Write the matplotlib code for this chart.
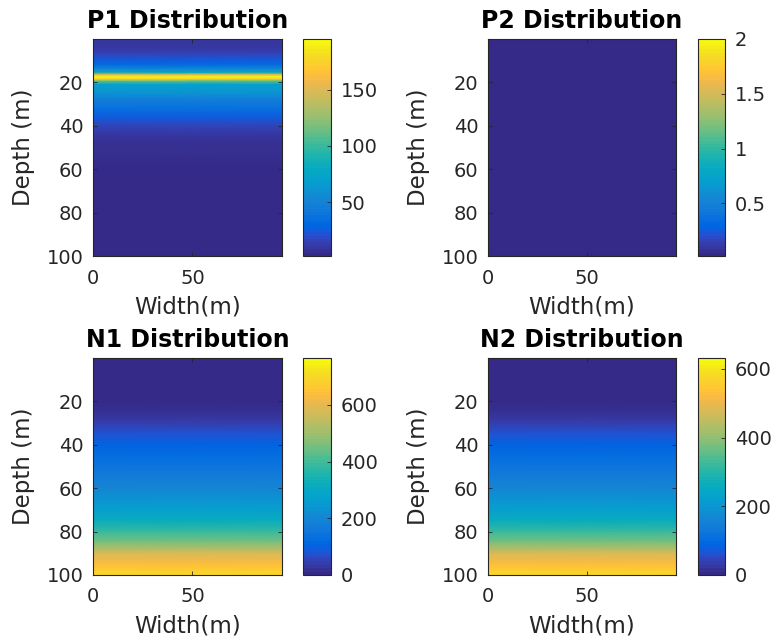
import numpy as np
import matplotlib
matplotlib.use("Agg")
import matplotlib.pyplot as plt
from matplotlib.colors import ListedColormap

# MATLAB parula colormap (64 entries)
parula = ListedColormap([
    [0.2081, 0.1663, 0.5292], [0.2116, 0.1898, 0.5777], [0.2123, 0.2138, 0.6270],
    [0.2081, 0.2386, 0.6771], [0.1959, 0.2645, 0.7279], [0.1707, 0.2919, 0.7792],
    [0.1253, 0.3242, 0.8303], [0.0591, 0.3598, 0.8683], [0.0117, 0.3875, 0.8820],
    [0.0060, 0.4086, 0.8828], [0.0165, 0.4266, 0.8786], [0.0329, 0.4430, 0.8720],
    [0.0498, 0.4586, 0.8641], [0.0629, 0.4737, 0.8554], [0.0723, 0.4887, 0.8467],
    [0.0779, 0.5040, 0.8384], [0.0793, 0.5200, 0.8312], [0.0749, 0.5375, 0.8263],
    [0.0641, 0.5570, 0.8240], [0.0488, 0.5772, 0.8228], [0.0343, 0.5966, 0.8199],
    [0.0265, 0.6137, 0.8135], [0.0239, 0.6287, 0.8038], [0.0231, 0.6418, 0.7913],
    [0.0228, 0.6535, 0.7768], [0.0267, 0.6642, 0.7607], [0.0384, 0.6743, 0.7436],
    [0.0590, 0.6838, 0.7254], [0.0843, 0.6928, 0.7062], [0.1133, 0.7015, 0.6859],
    [0.1453, 0.7098, 0.6646], [0.1801, 0.7177, 0.6424], [0.2178, 0.7250, 0.6193],
    [0.2586, 0.7317, 0.5954], [0.3022, 0.7376, 0.5712], [0.3482, 0.7424, 0.5473],
    [0.3953, 0.7459, 0.5244], [0.4420, 0.7481, 0.5033], [0.4871, 0.7491, 0.4840],
    [0.5300, 0.7491, 0.4661], [0.5709, 0.7485, 0.4494], [0.6099, 0.7473, 0.4337],
    [0.6473, 0.7456, 0.4188], [0.6834, 0.7435, 0.4044], [0.7184, 0.7411, 0.3905],
    [0.7525, 0.7384, 0.3768], [0.7858, 0.7356, 0.3633], [0.8185, 0.7327, 0.3498],
    [0.8507, 0.7299, 0.3360], [0.8824, 0.7274, 0.3217], [0.9139, 0.7258, 0.3063],
    [0.9450, 0.7261, 0.2886], [0.9739, 0.7314, 0.2666], [0.9938, 0.7455, 0.2403],
    [0.9990, 0.7653, 0.2164], [0.9955, 0.7861, 0.1967], [0.9880, 0.8066, 0.1794],
    [0.9789, 0.8271, 0.1633], [0.9697, 0.8481, 0.1475], [0.9626, 0.8705, 0.1309],
    [0.9589, 0.8949, 0.1132], [0.9598, 0.9218, 0.0948], [0.9661, 0.9514, 0.0755],
    [0.9763, 0.9831, 0.0538]])

# ---- data (constant across width) ----
width_range = [0, 95]

p1_depth = [0, 4, 7, 10, 12, 14, 15.5, 16.5, 17.5, 18.5, 19.5, 21, 25, 28, 32,
            36, 40, 44, 48, 52, 58, 65, 100]
p1_vals = [10, 11, 16, 24, 34, 55, 80, 150, 190, 175, 110, 70, 62, 45, 36,
           24, 16, 11, 8, 6, 4, 3, 2]
p1_clim = (2, 195)

p2_depth = [0, 100]
p2_vals = [0, 0]
p2_clim = (0.02, 2)

n_depth = [0, 5, 10, 15, 20, 25, 30, 35, 40, 45, 50, 55, 60, 65, 70, 75, 80,
           85, 90, 93, 96, 98, 100]
n1_vals = [5, 6, 7, 8, 11, 22, 42, 75, 105, 125, 150, 170, 195, 230, 270,
           320, 390, 460, 580, 620, 655, 680, 700]
n1_clim = (0, 765)
n2_vals = [4, 5, 6, 7, 9, 18, 35, 62, 87, 103, 124, 140, 161, 190, 223,
           264, 322, 380, 479, 512, 541, 562, 578]
n2_clim = (0, 632)

titles = ["P1 Distribution", "P2 Distribution", "N1 Distribution", "N2 Distribution"]
cbar_ticks = [[50, 100, 150], [0.5, 1, 1.5, 2], [0, 200, 400, 600], [0, 200, 400, 600]]
cbar_labels = [["50", "100", "150"], ["0.5", "1", "1.5", "2"],
               ["0", "200", "400", "600"], ["0", "200", "400", "600"]]

panels = [(p1_depth, p1_vals, p1_clim), (p2_depth, p2_vals, p2_clim),
          (n_depth, n1_vals, n1_clim), (n_depth, n2_vals, n2_clim)]

txt = '#262626'
plt.rcParams['font.family'] = 'DejaVu Sans'
plt.rcParams['text.color'] = txt
plt.rcParams['axes.labelcolor'] = txt

fig = plt.figure(figsize=(7.73, 6.43), dpi=100)

W, H = 773, 643
# pixel boxes: (left, top, right, bottom)
ax_boxes = [(93, 39, 282, 256), (488, 39, 676, 256),
            (93, 358, 282, 575), (488, 358, 676, 575)]
cb_boxes = [(303, 39, 331, 256), (698, 39, 725, 256),
            (303, 358, 331, 575), (698, 358, 725, 575)]

def frac(box):
    l, t, r, b = box
    return [l / W, 1 - b / H, (r - l) / W, (b - t) / H]

for i, (depth, vals, clim) in enumerate(panels):
    ax = fig.add_axes(frac(ax_boxes[i]))
    z = np.repeat(np.array(vals, dtype=float)[:, None], 2, axis=1)
    mesh = ax.pcolormesh(width_range, depth, z, shading='gouraud', cmap=parula,
                         vmin=clim[0], vmax=clim[1], rasterized=True)
    ax.set_xlim(0, 95)
    ax.set_ylim(100, 0)
    ax.set_xticks([0, 50])
    ax.set_yticks([20, 40, 60, 80, 100])
    ax.tick_params(direction='in', length=3, width=0.6, top=True, right=True,
                   colors=txt, labelsize=14, pad=7)
    ax.tick_params(axis='x', pad=9)
    for s in ax.spines.values():
        s.set_color(txt)
        s.set_linewidth(0.8)
    ax.set_title(titles[i], fontsize=17, fontweight='bold', pad=8, color='black')
    ax.set_xlabel('Width(m)', fontsize=16.5, labelpad=6)
    ax.set_ylabel('Depth (m)', fontsize=16.5, labelpad=8)

    cax = fig.add_axes(frac(cb_boxes[i]))
    cb = fig.colorbar(mesh, cax=cax)
    cb.set_ticks(cbar_ticks[i])
    cb.set_ticklabels(cbar_labels[i])
    cax.tick_params(direction='in', length=3, width=0.6, colors=txt,
                    labelsize=14, pad=7)
    cb.outline.set_edgecolor(txt)
    cb.outline.set_linewidth(0.8)

fig.savefig('out.png', dpi=100)
